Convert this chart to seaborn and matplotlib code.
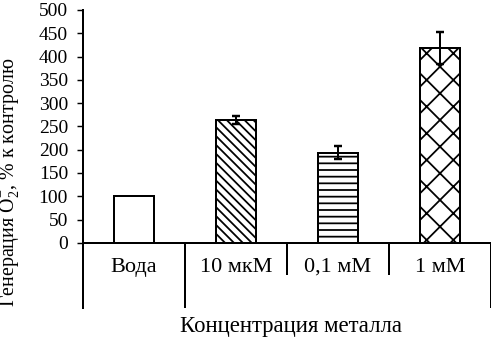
import pandas as pd
import seaborn as sns
import matplotlib.pyplot as plt

# data
categories = ["Вода", "10 мкМ", "0,1 мМ", "1 мМ"]
generation = [100, 264, 193, 418]
errors = [0, 8, 14, 35]
hatches = ["", "\\\\\\", "--", "x"]
yTicks = [0, 50, 100, 150, 200, 250, 300, 350, 400, 450, 500]

yLabel = "Генерация $\\mathrm{O}_2^{-}$, % к контролю"
xLabel = "Концентрация металла"

sns.set_theme(style = "white")
plt.rcParams["font.family"] = ["Liberation Serif", "DejaVu Serif"]
plt.rcParams["mathtext.fontset"] = "custom"
plt.rcParams["mathtext.rm"] = "Liberation Serif"
plt.rcParams["mathtext.it"] = "Liberation Serif:italic"
plt.rcParams["hatch.linewidth"] = 1.6
plt.rcParams["hatch.color"] = "black"

dataFrame = pd.DataFrame({"category" : categories, "value" : generation, "err" : errors})

# dpi 80 so the hatch spacing is close to the printed one
fig = plt.figure(figsize = (491 / 80, 337 / 80), dpi = 80)
ax = fig.add_axes([83 / 491, 1 - 308 / 337, 408 / 491, 298 / 337])

sns.barplot(
    data = dataFrame,
    x = "category",
    y = "value",
    order = categories,
    color = "white",
    saturation = 1,
    edgecolor = "black",
    linewidth = 1.8,
    width = 0.4,
    errorbar = None,
    ax = ax
)

for barPatch, hatchStyle in zip(ax.patches, hatches) :
    barPatch.set_hatch(hatchStyle)

withErr = dataFrame[dataFrame["err"] > 0]
ax.errorbar(
    x = withErr.index,
    y = withErr["value"],
    yerr = withErr["err"],
    fmt = "none",
    ecolor = "black",
    elinewidth = 1.8,
    capsize = 3.5,
    capthick = 2.2,
    zorder = 5
)

ax.set_xlim(-0.5, len(categories) - 0.5)
ax.set_ylim(-140, 500)
ax.set_yticks(yTicks)
ax.set_yticklabels([str(t) for t in yTicks], fontsize = 17.5)
ax.tick_params(axis = "y", direction = "out", length = 5.5, width = 1.3, pad = 8, left = True, colors = "black")
ax.set_xticks([])
ax.set_xlabel("")
ax.set_ylabel("")

for side in ["top", "right", "bottom"] :
    ax.spines[side].set_visible(False)
ax.spines["left"].set_linewidth(1.8)
ax.spines["left"].set_color("black")

# table under the zero line
ax.axhline(0, color = "black", linewidth = 1.8, clip_on = False)
ax.vlines([0.5, len(categories) - 0.5], -140, 0, color = "black", linewidth = 1.8, clip_on = False)
ax.vlines([1.5, 2.5], -69, 0, color = "black", linewidth = 1.8, clip_on = False)

for position, name in enumerate(categories) :
    ax.text(position, -62, name, ha = "center", va = "baseline", fontsize = 20, color = "black")

fig.text(291.5 / 491, 1 - 332 / 337, xLabel, ha = "center", va = "baseline", fontsize = 20.5, color = "black")
fig.text(10 / 491, 1 - 307 / 337, yLabel, rotation = 90, ha = "center", va = "bottom", fontsize = 18, color = "black")

fig.savefig("out.png", dpi = 80, facecolor = "white")
